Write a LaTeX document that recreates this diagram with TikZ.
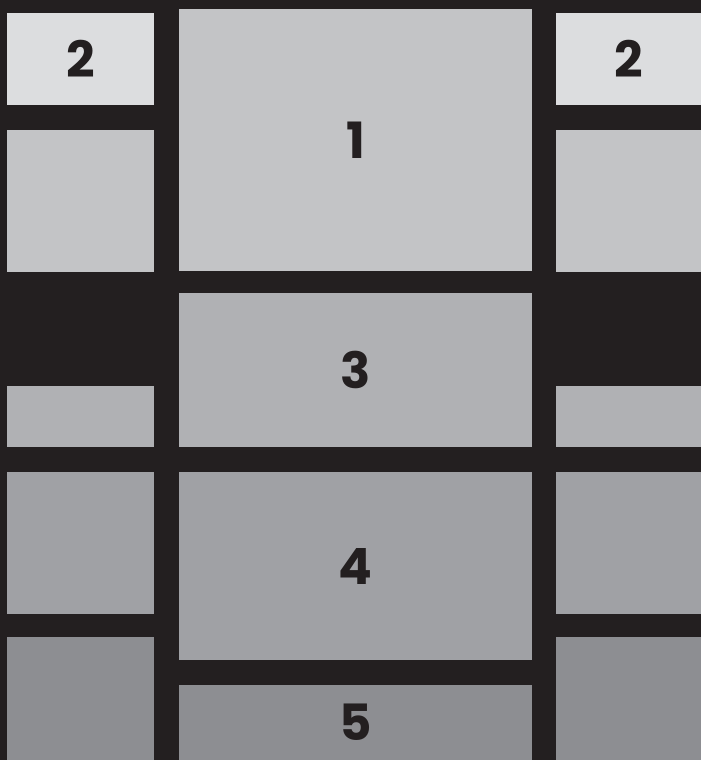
\documentclass[tikz,border=0pt]{standalone}
\usepackage{fontspec}
\setmainfont{Poppins}
\usetikzlibrary{positioning, calc}
\definecolor{pgInk}{HTML}{231F20}
\definecolor{pgTop}{HTML}{DCDDDF}
\definecolor{pgRowA}{HTML}{C3C4C6}
\definecolor{pgRowB}{HTML}{B0B1B4}
\definecolor{pgRowC}{HTML}{A0A1A5}
\definecolor{pgRowD}{HTML}{8D8E92}
\tikzset{
  pgpanel/.style={
    fill=#1, draw=none, inner sep=0pt, anchor=north west,
    text=pgInk, font=\fontsize{50}{50}\selectfont\bfseries,
  },
}
% colour, name, left, top, width, height, label
\newcommand{\pgbox}[7]{%
  \node[pgpanel=#1, minimum width=#5pt, minimum height=#6pt] (#2) at (#3,#4) {#7};%
}

\begin{document}
\begin{tikzpicture}[x=1pt, y=-1pt]

\useasboundingbox (0,0) rectangle (701,760);
\fill[pgInk] (0,0) rectangle (701,760);

% Side columns ------------------------------------------------------------
\foreach \s/\xs/\w in {L/7/147, R/556/145}{%
  \pgbox{pgTop}{\s-top}{\xs}{13}{\w}{92}{2}
  \pgbox{pgRowA}{\s-a}{\xs}{130}{\w}{142}{}
  \pgbox{pgRowB}{\s-b}{\xs}{386}{\w}{61}{}
  \pgbox{pgRowC}{\s-c}{\xs}{472}{\w}{142}{}
  \pgbox{pgRowD}{\s-d}{\xs}{637}{\w}{123}{}
}

% Middle column -----------------------------------------------------------
\pgbox{pgRowA}{m1}{179}{9}{353}{262}{1}
\pgbox{pgRowB}{m3}{179}{293}{353}{154}{3}
\pgbox{pgRowC}{m4}{179}{472}{353}{188}{4}
\pgbox{pgRowD}{m5}{179}{685}{353}{75}{5}

\end{tikzpicture}
\end{document}
